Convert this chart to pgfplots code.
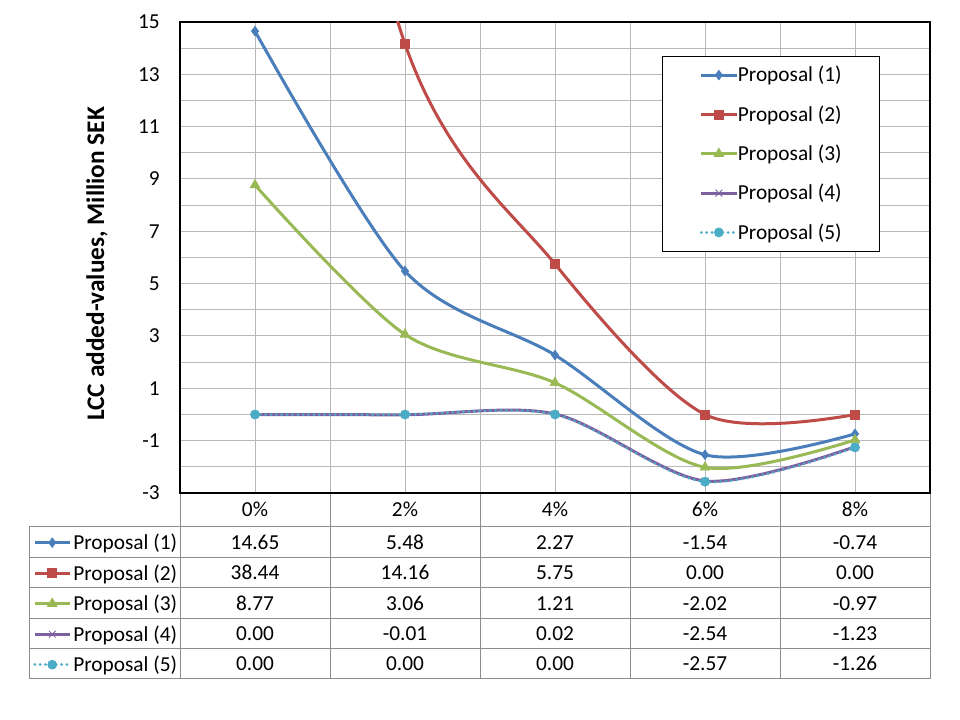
\documentclass[border=0pt]{standalone}
\usepackage{pgfplots}
\pgfplotsset{compat=1.18}
\usepackage{fontspec}
\setmainfont{Carlito}
\definecolor{c1}{HTML}{4A7EBB}
\definecolor{c2}{HTML}{BE4B48}
\definecolor{c3}{HTML}{98B954}
\definecolor{c4}{HTML}{7D60A0}
\definecolor{c5}{HTML}{4BACC6}
\definecolor{gridc}{HTML}{B8B8B8}
\definecolor{tabc}{HTML}{8C8C8C}
\pgfplotsset{
  p1/.style={color=c1, line width=2.25pt, mark=diamond*, mark size=3.6pt, mark options={solid, line width=0.5pt, fill=c1}},
  p2/.style={color=c2, line width=2.25pt, mark=square*, mark size=3.4pt, mark options={solid, line width=0.5pt, fill=c2}},
  p3/.style={color=c3, line width=2.25pt, mark=triangle*, mark size=4.2pt, mark options={solid, line width=0.5pt, fill=c3}},
  p4/.style={color=c4, line width=2.25pt, mark=x, mark size=3.6pt, mark options={solid, line width=0.6pt}},
  p5/.style={color=c5, line width=2.25pt, line cap=round, dash pattern=on 0.01pt off 4pt, mark=*, mark size=3.4pt, mark options={solid, line width=0.5pt, fill=c5}},
  every axis/.append style={/pgf/number format/assume math mode=true},
  legend image code/.code={\draw[mark repeat=2,mark phase=2,#1] plot coordinates {(0pt,0pt) (13.125pt,0pt) (26.25pt,0pt)};},
}
\begin{document}
\begin{tikzpicture}[font=\fontsize{16pt}{19pt}\selectfont]
\path[use as bounding box] (0,0) rectangle (720pt,540pt);
\begin{axis}[
  at={(135pt,170.25pt)}, anchor=south west,
  scale only axis, width=562.5pt, height=353.25pt,
  xmin=-0.5, xmax=4.5, ymin=-3, ymax=15,
  xtick={0,1,2,3,4}, xticklabels={0\%,2\%,4\%,6\%,8\%},
  minor xtick={-0.5,0.5,1.5,2.5,3.5,4.5},
  ytick={-3,-1,1,3,5,7,9,11,13,15},
  minor ytick={-2,0,2,4,6,8,10,12,14},
  grid=both,
  grid style={gridc, line width=0.75pt},
  minor grid style={gridc, line width=0.75pt},
  major tick length=0pt, minor tick length=0pt,
  tick style={draw=none},
  axis line style={black, line width=1.5pt},
  xticklabel style={anchor=center, yshift=-12.75pt, text height=10.3pt, text depth=0pt, inner sep=0pt},
  yticklabel style={anchor=east, inner sep=0pt, xshift=-15pt},
  legend cell align=left,
  legend style={at={(0.6427,0.9278)}, anchor=north west, draw=black, line width=0.75pt, fill=white,
    inner xsep=28pt, inner ysep=8.8pt, row sep=19.2pt, column sep=0pt,
    nodes={inner sep=0pt, text height=10.3pt, text depth=0pt}},
]
\addplot[p1, smooth] coordinates {(0,14.65) (1,5.48) (2,2.27) (3,-1.54) (4,-0.74)};
\addplot[p2, smooth] coordinates {(0,38.44) (1,14.16) (2,5.75) (3,0.00) (4,0.00)};
\addplot[p3, smooth] coordinates {(0,8.77) (1,3.06) (2,1.21) (3,-2.02) (4,-0.97)};
\addplot[p4, smooth] coordinates {(0,0.00) (1,-0.01) (2,0.02) (3,-2.54) (4,-1.23)};
\addplot[p5, smooth] coordinates {(0,0.00) (1,0.00) (2,0.00) (3,-2.57) (4,-1.26)};
\legend{Proposal (1),Proposal (2),Proposal (3),Proposal (4),Proposal (5)}
\end{axis}
\begin{axis}[
  at={(0pt,0pt)}, anchor=south west,
  scale only axis, width=720pt, height=540pt,
  xmin=0, xmax=960, ymin=-720, ymax=0,
  hide axis, clip=false,
  legend cell align=left,
  legend style={at={(0.034375,0.2562)}, anchor=north west, draw=none, fill=none,
    inner sep=0pt, row sep=12.575pt, column sep=1.5pt,
    nodes={inner sep=0pt, text height=10.3pt, text depth=0pt}},
]
\addlegendimage{p1}\addlegendentry{Proposal (1)}
\addlegendimage{p2}\addlegendentry{Proposal (2)}
\addlegendimage{p3}\addlegendentry{Proposal (3)}
\addlegendimage{p4}\addlegendentry{Proposal (4)}
\addlegendimage{p5}\addlegendentry{Proposal (5)}
% table grid
\draw[tabc, line width=0.75pt]
  (axis cs:29,-527) -- (axis cs:930,-527)
  (axis cs:29,-557.5) -- (axis cs:930,-557.5)
  (axis cs:29,-588) -- (axis cs:930,-588)
  (axis cs:29,-618.3) -- (axis cs:930,-618.3)
  (axis cs:29,-648.7) -- (axis cs:930,-648.7)
  (axis cs:29,-679) -- (axis cs:930,-679)
  (axis cs:29,-527) -- (axis cs:29,-679)
  (axis cs:180,-494) -- (axis cs:180,-679)
  (axis cs:330,-494) -- (axis cs:330,-679)
  (axis cs:480,-494) -- (axis cs:480,-679)
  (axis cs:630,-494) -- (axis cs:630,-679)
  (axis cs:780,-494) -- (axis cs:780,-679)
  (axis cs:930,-494) -- (axis cs:930,-679);
\tikzset{tv/.style={anchor=center, inner sep=0pt, text height=10.3pt, text depth=0pt}}
% row 1
\node[tv] at (axis cs:255,-542.2) {14.65};
\node[tv] at (axis cs:405,-542.2) {5.48};
\node[tv] at (axis cs:555,-542.2) {2.27};
\node[tv] at (axis cs:705,-542.2) {-1.54};
\node[tv] at (axis cs:855,-542.2) {-0.74};
% row 2
\node[tv] at (axis cs:255,-572.7) {38.44};
\node[tv] at (axis cs:405,-572.7) {14.16};
\node[tv] at (axis cs:555,-572.7) {5.75};
\node[tv] at (axis cs:705,-572.7) {0.00};
\node[tv] at (axis cs:855,-572.7) {0.00};
% row 3
\node[tv] at (axis cs:255,-603.2) {8.77};
\node[tv] at (axis cs:405,-603.2) {3.06};
\node[tv] at (axis cs:555,-603.2) {1.21};
\node[tv] at (axis cs:705,-603.2) {-2.02};
\node[tv] at (axis cs:855,-603.2) {-0.97};
% row 4
\node[tv] at (axis cs:255,-633.5) {0.00};
\node[tv] at (axis cs:405,-633.5) {-0.01};
\node[tv] at (axis cs:555,-633.5) {0.02};
\node[tv] at (axis cs:705,-633.5) {-2.54};
\node[tv] at (axis cs:855,-633.5) {-1.23};
% row 5
\node[tv] at (axis cs:255,-663.8) {0.00};
\node[tv] at (axis cs:405,-663.8) {0.00};
\node[tv] at (axis cs:555,-663.8) {0.00};
\node[tv] at (axis cs:705,-663.8) {-2.57};
\node[tv] at (axis cs:855,-663.8) {-1.26};
% y label
\node[rotate=90, anchor=base, font=\fontsize{19pt}{22pt}\selectfont\bfseries] at (axis cs:104,-264) {LCC added-values, Million SEK};
\end{axis}
\end{tikzpicture}
\end{document}
